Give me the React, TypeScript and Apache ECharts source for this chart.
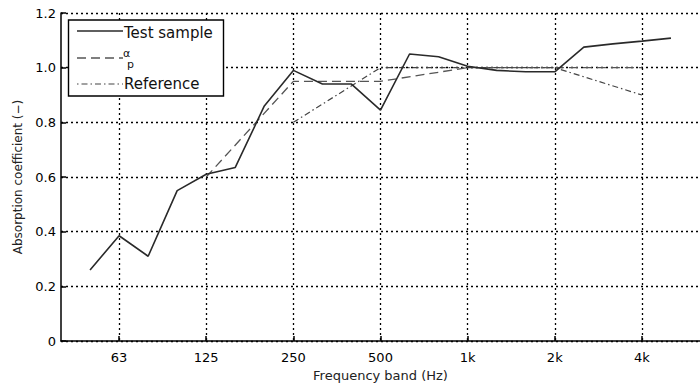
import React, { useEffect, useRef } from "react";
import * as echarts from "echarts";

const bands = ["40", "50", "63", "80", "100", "125", "160", "200", "250", "315", "400", "500", "630", "800", "1k", "1.25k", "1.6k", "2k", "2.5k", "3.15k", "4k", "5k", "6.3k"];
const labelledBands = ["63", "125", "250", "500", "1k", "2k", "4k"];
const testSample = [null, 0.26, 0.385, 0.31, 0.55, 0.61, 0.635, 0.86, 0.99, 0.94, 0.94, 0.845, 1.05, 1.04, 1.005, 0.99, 0.985, 0.985, 1.075, 1.087, 1.097, 1.108, null];
const alphaP = [null, null, null, null, null, 0.6, null, null, 0.95, null, null, 0.95, null, null, 1.0, null, null, 1.0, null, null, 1.0, null, null];
const reference = [null, null, null, null, null, null, null, null, 0.8, null, null, 1.0, null, null, 1.0, null, null, 1.0, null, null, 0.9, null, null];
const yTicks = [0, 0.2, 0.4, 0.6, 0.8, 1.0, 1.2];

const FONT = "DejaVu Sans";

export default function App() {
  const ref = useRef<HTMLDivElement>(null);
  useEffect(() => {
    const chart = echarts.init(ref.current!, null, { renderer: "svg" });
    const showBand = (i: number) => labelledBands.includes(bands[i]);
    const gridLine = { show: true, lineStyle: { color: "#000", width: 1.3, type: [2, 3] as any } };
    chart.setOption({
      animation: false,
      backgroundColor: "#fff",
      grid: { left: 61, top: 13, width: 650, height: 331, containLabel: false },
      xAxis: {
        type: "category",
        data: bands,
        boundaryGap: false,
        name: "Frequency band (Hz)",
        nameLocation: "middle",
        nameGap: 28,
        nameTextStyle: { fontFamily: FONT, fontSize: 13, color: "#222" },
        axisLine: { lineStyle: { color: "#000", width: 1.5 } },
        axisTick: { inside: true, length: 5, interval: (i: number) => showBand(i), lineStyle: { color: "#000", width: 1.5 } },
        axisLabel: { interval: (i: number) => showBand(i), margin: 10, fontFamily: FONT, fontSize: 13, color: "#000" },
        splitLine: { ...gridLine, interval: (i: number) => showBand(i) },
      },
      yAxis: {
        type: "value",
        min: 0,
        max: 1.2,
        interval: 0.2,
        name: "Absorption coefficient (\u2212)",
        nameLocation: "middle",
        nameGap: 37,
        nameTextStyle: { fontFamily: FONT, fontSize: 12, color: "#222" },
        axisLine: { show: true, lineStyle: { color: "#000", width: 1.5 } },
        axisTick: { show: true, inside: true, length: 5, lineStyle: { color: "#000", width: 1.5 } },
        axisLabel: {
          margin: 5,
          fontFamily: FONT,
          fontSize: 13,
          color: "#000",
          formatter: (v: number) => {
            const t = yTicks.find((x) => Math.abs(x - v) < 1e-6);
            const val = t === undefined ? v : t;
            return val === 0 ? "0" : val.toFixed(1);
          },
        },
        splitLine: gridLine,
      },
      series: [
        {
          name: "Test sample",
          type: "line",
          data: testSample,
          showSymbol: false,
          lineStyle: { color: "#2a2a2a", width: 1.6, type: "solid" },
          z: 5,
        },
        {
          name: "\u03b1p",
          type: "line",
          data: alphaP,
          connectNulls: true,
          showSymbol: false,
          lineStyle: { color: "#555", width: 1.3, type: [9, 5] as any },
          z: 4,
        },
        {
          name: "Reference",
          type: "line",
          data: reference,
          connectNulls: true,
          showSymbol: false,
          lineStyle: { color: "#444", width: 1.2, type: [6, 3, 1.5, 3] as any },
          z: 4,
        },
      ],
      graphic: [
        {
          type: "rect",
          shape: { x: 68.5, y: 20, width: 155, height: 76 },
          style: { fill: "#fff", stroke: "#000", lineWidth: 1.4 },
          z: 100,
        },
        { type: "line", shape: { x1: 77, y1: 31, x2: 123, y2: 31 }, style: { stroke: "#2a2a2a", lineWidth: 1.6 }, z: 101 },
        { type: "line", shape: { x1: 77, y1: 58, x2: 123, y2: 58 }, style: { stroke: "#555", lineWidth: 1.3, lineDash: [9, 5] }, z: 101 },
        { type: "line", shape: { x1: 77, y1: 84, x2: 123, y2: 84 }, style: { stroke: "#444", lineWidth: 1.2, lineDash: [1.5, 3, 6, 3] }, z: 101 },
        {
          type: "text",
          x: 124,
          y: 33,
          style: { text: "Test sample", fontFamily: FONT, fontSize: 15, fill: "#111", verticalAlign: "middle" },
          z: 101,
        },
        {
          type: "text",
          x: 123,
          y: 53,
          style: { text: "\u03b1", fontFamily: FONT, fontSize: 11, fill: "#111", verticalAlign: "middle" },
          z: 101,
        },
        {
          type: "text",
          x: 127,
          y: 64,
          style: { text: "p", fontFamily: FONT, fontSize: 11, fill: "#111", verticalAlign: "middle" },
          z: 101,
        },
        {
          type: "text",
          x: 124,
          y: 84,
          style: { text: "Reference", fontFamily: FONT, fontSize: 15, fill: "#111", verticalAlign: "middle" },
          z: 101,
        },
      ],
    });
    return () => chart.dispose();
  }, []);
  return <div ref={ref} style={{ width: 700, height: 387, position: "absolute", left: 0, top: 0 }} />;
}
